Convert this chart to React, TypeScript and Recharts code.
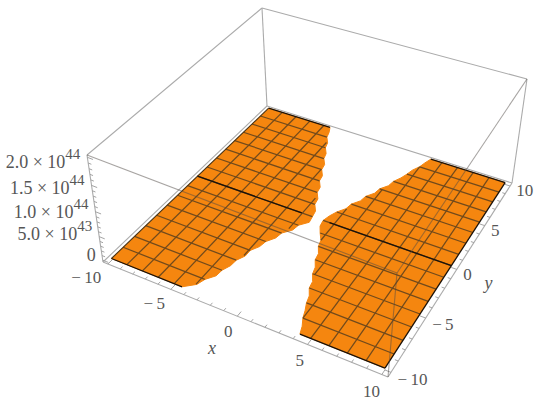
import { ScatterChart, Scatter, XAxis, YAxis } from 'recharts';

// surface boundary: row y -> x where each orange piece stops
const yRows = [-10, -9.375, -8.75, -8.125, -7.5, -6.875, -6.25, -5.625, -5, -4.375, -3.75, -3.125, -2.5, -1.875, -1.25, -0.625, 0, 0.625, 1.25, 1.875, 2.5, 3.125, 3.75, 4.375, 5, 5.625, 6.25, 6.875, 7.5, 8.125, 8.75, 9.375, 10];
const leftEnd = [-4.4, -3.7, -3.5, -3.05, -3.0, -2.75, -2.7, -2.4, -2.4, -2.05, -1.95, -1.55, -1.45, -0.95, -0.85, -0.35, -0.45, -0.55, -0.95, -1.05, -1.45, -1.55, -1.95, -2.05, -2.45, -2.55, -2.95, -3.1, -3.5, -3.65, -4.05, -4.2, -4.45];
const rightStart = [4.25, 4.05, 3.75, 3.55, 3.3, 3.15, 2.8, 2.7, 2.35, 2.2, 1.85, 1.75, 1.4, 1.25, 0.85, 0.5, 0.4, 0.55, 0.8, 1.2, 1.3, 1.7, 1.8, 2.2, 2.3, 2.7, 2.8, 3.1, 3.3, 3.45, 3.75, 3.9, 4.1];

const meshLines = [-8.75, -7.5, -6.25, -5, -3.75, -2.5, -1.25, 0, 1.25, 2.5, 3.75, 5, 6.25, 7.5, 8.75];

const majorTicks = [-10, -5, 0, 5, 10];
const minorTicks = [-9, -8, -7, -6, -4, -3, -2, -1, 1, 2, 3, 4, 6, 7, 8, 9];
const zMajor = [0, 0.5, 1, 1.5, 2];
const zMinor = [0.1, 0.2, 0.3, 0.4, 0.6, 0.7, 0.8, 0.9, 1.1, 1.2, 1.3, 1.4, 1.6, 1.7, 1.8, 1.9];
const zMantissa = ['0', '5.0', '1.0', '1.5', '2.0'];
const zExponent = ['', '43', '44', '44', '44'];

// camera: where the box corners land on the page
const LO = -10.4;
const HI = 10.4;
const Z_LO = -0.04;
const Z_HI = 2.04;
type P = [number, number];
const floorCorners: P[] = [[103, 262], [388, 377], [512, 183], [267, 106]];
const roofCorners: P[] = [[87, 155], [397, 273], [527, 79], [262, 8]];

function homography([p0, p1, p2, p3]: P[]) {
  const dx1 = p1[0] - p2[0], dx2 = p3[0] - p2[0], sx = p0[0] - p1[0] + p2[0] - p3[0];
  const dy1 = p1[1] - p2[1], dy2 = p3[1] - p2[1], sy = p0[1] - p1[1] + p2[1] - p3[1];
  const det = dx1 * dy2 - dx2 * dy1;
  const g = (sx * dy2 - dx2 * sy) / det;
  const h = (dx1 * sy - sx * dy1) / det;
  const a = p1[0] - p0[0] + g * p1[0], b = p3[0] - p0[0] + h * p3[0];
  const d = p1[1] - p0[1] + g * p1[1], e = p3[1] - p0[1] + h * p3[1];
  return (u: number, v: number): P => {
    const w = g * u + h * v + 1;
    return [(a * u + b * v + p0[0]) / w, (d * u + e * v + p0[1]) / w];
  };
}

const floorMap = homography(floorCorners);
const roofMap = homography(roofCorners);

function project(x: number, y: number, z = 0) {
  const u = (x - LO) / (HI - LO);
  const v = (y - LO) / (HI - LO);
  const t = (z - Z_LO) / (Z_HI - Z_LO);
  const f = t / (t + (1 - t) * 1.13);
  const a = floorMap(u, v);
  const b = roofMap(u, v);
  return { sx: a[0] + (b[0] - a[0]) * f, sy: a[1] + (b[1] - a[1]) * f };
}

const seg = (a: number[], b: number[]) => [project(a[0], a[1], a[2] ?? Z_LO), project(b[0], b[1], b[2] ?? Z_LO)];

const leftPoly = [project(-10, -10), ...yRows.map((y, i) => project(leftEnd[i], y)), project(-10, 10)];
const rightPoly = [project(10, -10), ...yRows.map((y, i) => project(rightStart[i], y)), project(10, 10)];

// boundary x at a row, looked up between the rows read above
function edgeAt(list: number[], y: number) {
  const i = Math.min(Math.floor((y + 10) / 0.625), yRows.length - 2);
  const k = (y - yRows[i]) / 0.625;
  return list[i] + (list[i + 1] - list[i]) * k;
}

const meshSegments: { sx: number; sy: number }[][] = [];
meshLines.forEach((m) => {
  meshSegments.push([project(-10, m), project(edgeAt(leftEnd, m), m)]);
  meshSegments.push([project(edgeAt(rightStart, m), m), project(10, m)]);
  const left = yRows.filter((_, i) => leftEnd[i] >= m);
  if (left.length > 1) meshSegments.push([project(m, left[0]), project(m, left[left.length - 1])]);
  const right = yRows.filter((_, i) => rightStart[i] <= m);
  if (right.length > 1) meshSegments.push([project(m, right[0]), project(m, right[right.length - 1])]);
});

const blackEdges = [
  [project(-10, -10), project(leftEnd[0], -10)],
  [project(-10, 10), project(leftEnd[32], 10)],
  [project(rightStart[0], -10), project(10, -10)],
  [project(rightStart[32], 10), project(10, 10)],
  [project(-10, 0), project(-1.3, 0)],
  [project(0.9, 0), project(10, 0)],
  [project(10, -10), project(10, 10)],
];
const softEdges = [[project(-10, -10), project(-10, 10)]];

const backBox = [
  seg([LO, LO], [HI, LO]), seg([HI, LO], [HI, HI]), seg([HI, HI], [LO, HI]), seg([LO, HI], [LO, LO]),
  seg([LO, LO, Z_LO], [LO, LO, Z_HI]), seg([LO, HI, Z_LO], [LO, HI, Z_HI]), seg([HI, HI, Z_LO], [HI, HI, Z_HI]),
  seg([LO, LO, Z_HI], [LO, HI, Z_HI]), seg([LO, HI, Z_HI], [HI, HI, Z_HI]),
];
const frontBox = [
  seg([LO, LO, Z_HI], [HI, LO, Z_HI]), seg([HI, LO, Z_HI], [HI, HI, Z_HI]), seg([HI, LO, Z_LO], [HI, LO, Z_HI]),
];

const tickSegs = [
  ...majorTicks.map((t) => seg([t, LO], [t, LO + 0.45])),
  ...minorTicks.map((t) => seg([t, LO], [t, LO + 0.25])),
  ...majorTicks.map((t) => seg([HI, t], [HI - 0.4, t])),
  ...minorTicks.map((t) => seg([HI, t], [HI - 0.22, t])),
  ...zMajor.map((z) => seg([LO, LO, z], [LO + 0.45, LO, z])),
  ...zMinor.map((z) => seg([LO, LO, z], [LO + 0.25, LO, z])),
];

const tickName = (t: number) => (t < 0 ? '\u2212\u2009' + Math.abs(t) : String(t));
const xLabels = majorTicks.map((t) => ({ ...project(t + 0.5, -11.7), text: tickName(t) }));
const yLabels = majorTicks.map((t) => ({ ...project(11.0, t - 0.4), text: tickName(t) }));
const zLabels = zMajor.map((z, i) => ({ ...project(LO, LO, z), z, text: zMantissa[i], sup: zExponent[i] }));
const axisNames = [
  { ...project(0.2, -13.5), text: 'x' },
  { ...project(12.8, -0.5), text: 'y' },
];

const SERIF = '"Liberation Serif", serif';
const TEXT = '#565656';
const NoDot = () => null;

function XTickLabel(props: any) {
  return (
    <text x={props.cx} y={props.cy + 6} textAnchor="end" fontFamily={SERIF} fontSize={17} fill={TEXT}>
      {props.payload.text}
    </text>
  );
}

function YTickLabel(props: any) {
  return (
    <text x={props.cx} y={props.cy + 6} textAnchor="start" fontFamily={SERIF} fontSize={17} fill={TEXT}>
      {props.payload.text}
    </text>
  );
}

function AxisName(props: any) {
  return (
    <text x={props.cx} y={props.cy + 5} textAnchor="middle" fontFamily={SERIF} fontStyle="italic" fontSize={18} fill={TEXT}>
      {props.payload.text}
    </text>
  );
}

function ZLabel(props: any) {
  const { text, sup, z } = props.payload;
  const y = props.cy + 1 + z * 5;
  return (
    <text x={props.cx - 7} y={y} textAnchor="end" fontFamily={SERIF} fontSize={18} fill={TEXT}>
      {sup ? text + ' \u00d7 10' : text}
      {sup && <tspan dy={-9} fontSize={15}>{sup}</tspan>}
    </text>
  );
}

export default function App() {
  return (
    <div style={{ position: 'absolute', left: 0, top: 0, width: 550, height: 410, background: '#fff' }}>
      <ScatterChart width={550} height={410} margin={{ top: 0, right: 0, bottom: 0, left: 0 }}>
        <XAxis type="number" dataKey="sx" domain={[0, 550]} hide />
        <YAxis type="number" dataKey="sy" domain={[0, 410]} reversed hide />

        {backBox.map((d, i) => (
          <Scatter key={'b' + i} data={d} line={{ stroke: '#ababab', strokeWidth: 1.1 }} shape={NoDot} isAnimationActive={false} />
        ))}
        {tickSegs.map((d, i) => (
          <Scatter key={'t' + i} data={d} line={{ stroke: '#9a9a9a', strokeWidth: 0.9 }} shape={NoDot} isAnimationActive={false} />
        ))}

        <Scatter data={leftPoly} line={{ stroke: '#f5860f', strokeWidth: 1, fill: '#f5860f' }} shape={NoDot} isAnimationActive={false} />
        <Scatter data={rightPoly} line={{ stroke: '#f5860f', strokeWidth: 1, fill: '#f5860f' }} shape={NoDot} isAnimationActive={false} />

        {meshSegments.map((d, i) => (
          <Scatter key={'m' + i} data={d} line={{ stroke: '#714a1c', strokeWidth: 1.25 }} shape={NoDot} isAnimationActive={false} />
        ))}
        {softEdges.map((d, i) => (
          <Scatter key={'s' + i} data={d} line={{ stroke: '#4a3212', strokeWidth: 1.1 }} shape={NoDot} isAnimationActive={false} />
        ))}
        {blackEdges.map((d, i) => (
          <Scatter key={'e' + i} data={d} line={{ stroke: '#1c1208', strokeWidth: 1.3 }} shape={NoDot} isAnimationActive={false} />
        ))}
        {frontBox.map((d, i) => (
          <Scatter key={'f' + i} data={d} line={{ stroke: '#4f4a45', strokeOpacity: 0.5, strokeWidth: 1.1 }} shape={NoDot} isAnimationActive={false} />
        ))}

        <Scatter data={xLabels} shape={XTickLabel} isAnimationActive={false} />
        <Scatter data={yLabels} shape={YTickLabel} isAnimationActive={false} />
        <Scatter data={zLabels} shape={ZLabel} isAnimationActive={false} />
        <Scatter data={axisNames} shape={AxisName} isAnimationActive={false} />
      </ScatterChart>
    </div>
  );
}
